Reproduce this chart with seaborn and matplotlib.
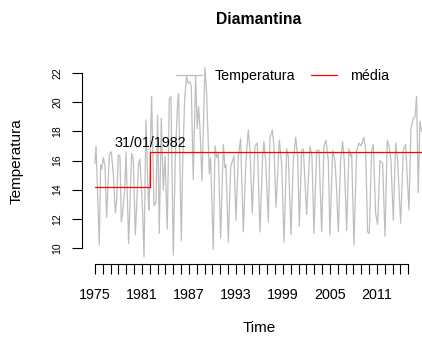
import matplotlib
matplotlib.use('Agg')
import matplotlib.pyplot as plt
import seaborn as sns

# monthly temperature series (decimal year, value)
time = [1975.00, 1975.13, 1975.55, 1975.72, 1975.85, 1976.06, 1976.28, 1976.49, 1976.83, 1977.09,
        1977.34, 1977.60, 1977.77, 1977.98, 1978.19, 1978.36, 1978.53, 1978.79, 1978.96, 1979.30,
        1979.68, 1979.89, 1980.15, 1980.57, 1980.74, 1981.09, 1981.26, 1981.51, 1981.81, 1981.89,
        1982.23, 1982.53, 1982.79, 1983.00, 1983.21, 1983.47, 1983.72, 1983.94, 1984.23, 1984.49,
        1984.70, 1985.00, 1985.26, 1985.55, 1985.68, 1986.02, 1986.19, 1986.45, 1986.70, 1986.91,
        1987.13, 1987.30, 1987.55, 1987.85, 1988.06, 1988.23, 1988.40, 1988.66, 1989.04, 1989.26,
        1989.60, 1989.77, 1990.11, 1990.33, 1990.54, 1990.75, 1991.05, 1991.39, 1991.60, 1991.73,
        1992.03, 1992.33, 1992.58, 1992.75, 1993.01, 1993.31, 1993.60, 1993.94, 1994.28, 1994.58,
        1994.80, 1995.09, 1995.43, 1995.73, 1996.07, 1996.41, 1996.58, 1996.80, 1997.14, 1997.35,
        1997.65, 1997.86, 1998.12, 1998.54, 1998.84, 1999.14, 1999.48, 1999.69, 2000.03, 2000.33,
        2000.63, 2000.88, 2001.10, 2001.39, 2001.61, 2002.03, 2002.46, 2002.71, 2002.97, 2003.31,
        2003.61, 2003.95, 2004.25, 2004.50, 2004.80, 2005.01, 2005.35, 2005.65, 2005.86, 2006.08,
        2006.37, 2006.63, 2006.84, 2007.14, 2007.44, 2007.65, 2007.78, 2008.08, 2008.42, 2008.72,
        2008.97, 2009.35, 2009.57, 2009.82, 2010.04, 2010.33, 2010.55, 2010.84, 2011.10, 2011.40,
        2011.74, 2012.04, 2012.33, 2012.55, 2012.80, 2013.10, 2013.40, 2013.65, 2014.04, 2014.38,
        2014.68, 2015.10, 2015.36, 2015.66, 2015.87, 2016.08, 2016.29, 2016.50, 2016.72]
temp = [15.8, 17.0, 10.2, 15.7, 15.4, 16.2, 15.6, 12.1, 16.4, 16.6,
        15.1, 12.4, 13.3, 16.4, 16.3, 11.8, 12.4, 14.0, 16.6, 10.3,
        16.5, 16.1, 10.9, 15.8, 16.1, 12.4, 9.4, 18.8, 13.3, 12.6,
        20.4, 12.9, 13.1, 19.1, 11.0, 18.9, 14.0, 16.3, 11.3, 20.2,
        20.4, 9.5, 16.3, 19.9, 20.6, 10.5, 15.6, 20.2, 21.8, 21.3,
        21.4, 21.1, 14.7, 21.8, 18.2, 19.7, 18.3, 14.6, 22.4, 20.6,
        15.1, 16.2, 9.9, 17.0, 16.2, 16.5, 10.7, 17.1, 15.5, 15.7,
        10.4, 15.6, 16.0, 16.3, 11.9, 16.3, 17.5, 11.1, 16.0, 18.1,
        16.7, 12.4, 17.0, 17.2, 11.1, 16.3, 17.3, 16.0, 11.8, 17.6,
        18.1, 17.0, 12.8, 17.4, 15.8, 10.4, 16.8, 16.3, 10.9, 16.0,
        17.6, 16.3, 11.5, 16.7, 16.8, 12.3, 17.0, 16.3, 11.0, 16.7,
        16.7, 11.1, 17.0, 17.4, 16.0, 10.9, 16.7, 16.0, 14.0, 11.1,
        16.0, 17.3, 16.0, 11.2, 16.8, 16.3, 16.5, 10.2, 16.7, 17.2,
        17.0, 17.6, 16.7, 11.1, 11.0, 16.7, 17.1, 12.4, 11.6, 16.0,
        15.8, 10.8, 17.4, 17.0, 16.0, 11.9, 17.2, 16.0, 11.7, 16.7,
        17.1, 12.6, 18.2, 18.9, 19.0, 20.4, 13.8, 18.7, 18.0]

# mean before / after the change point (31/01/1982)
mean_time = [1975.0, 1982.08, 1982.08, 2016.72]
mean_temp = [14.2, 14.2, 16.6, 16.6]

years = list(range(1975, 2016))
year_labels = [str(y) if (y - 1975) % 6 == 0 else '' for y in years]
y_ticks = [10, 12, 14, 16, 18, 20, 22]

sns.set_style('white')
plt.rcParams['font.family'] = ['Liberation Sans', 'DejaVu Sans']
plt.rcParams['text.color'] = 'black'
plt.rcParams['xtick.color'] = 'black'
plt.rcParams['ytick.color'] = 'black'
plt.rcParams['axes.labelcolor'] = 'black'

fig = plt.figure(figsize=(4.22, 3.38), dpi=100)
ax = fig.add_axes([82 / 422, 74 / 338, 352 / 422, 204 / 338])

sns.lineplot(x=time, y=temp, ax=ax, color='#BEBEBE', lw=0.9, sort=False,
             estimator=None, label='Temperatura')
sns.lineplot(x=mean_time, y=mean_temp, ax=ax, color='#FF0000', lw=0.9, sort=False,
             estimator=None, label='média')
ax.text(1982.0, 16.75, '31/01/1982', ha='center', va='bottom', fontsize=10.3, color='black')

ax.set_xlim(1973.34, 2018.3)
ax.set_ylim(8.9, 22.9)

for s in ['top', 'right']:
    ax.spines[s].set_visible(False)
ax.spines['left'].set_bounds(10, 22)
ax.spines['bottom'].set_bounds(1975, 2015)
for s in ['left', 'bottom']:
    ax.spines[s].set_color('black')
    ax.spines[s].set_linewidth(0.8)

ax.set_xticks(years)
ax.set_xticklabels(year_labels)
ax.set_yticks(y_ticks)
ax.set_yticklabels([str(v) for v in y_ticks], rotation=90, va='center')
ax.tick_params(axis='x', length=7, width=0.8, pad=10, labelsize=10.3, color='black', labelcolor='black')
ax.tick_params(axis='y', length=7, width=0.8, pad=7, labelsize=7.5, color='black', labelcolor='black')
ax.tick_params(bottom=True, left=True)

ax.set_xlabel('')
ax.set_ylabel('')
fig.text(17 / 422, 1 - 161 / 338, 'Temperatura', rotation=90, ha='center', va='center', fontsize=11, color='black')
fig.text(259 / 422, 1 - 328 / 338, 'Time', ha='center', va='center', fontsize=11, color='black')
fig.text(259 / 422, 1 - 20 / 338, 'Diamantina', ha='center', va='center', fontsize=11.3,
         fontweight='bold', color='black')

leg = ax.legend(loc='center left', bbox_to_anchor=(176 / 422, 1 - 76 / 338), bbox_transform=fig.transFigure,
                ncol=2, frameon=False, fontsize=10.3, handlelength=1.8, handletextpad=0.9,
                columnspacing=1.1, borderpad=0, borderaxespad=0)
for t in leg.get_texts():
    t.set_color('black')

fig.savefig('out.png', dpi=100)
